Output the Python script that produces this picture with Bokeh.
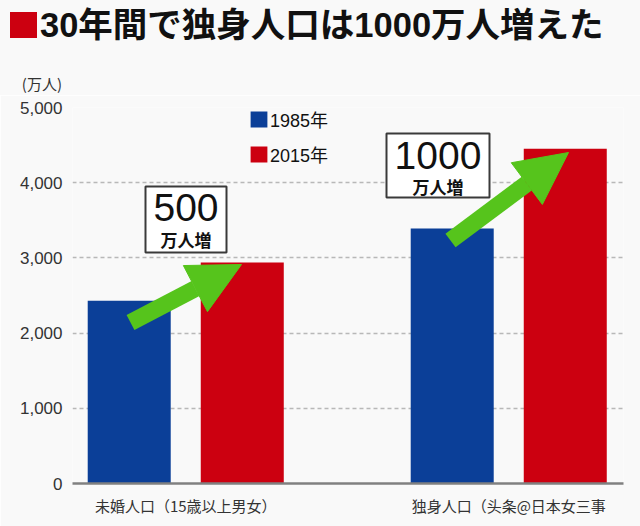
from bokeh.plotting import figure
from bokeh.layouts import column
from bokeh.models import (ColumnDataSource, FixedTicker, NumeralTickFormatter, Label, Div,
                          BoxAnnotation, Arrow, NormalHead, Legend, LegendItem, Range1d)
from bokeh.embed import file_html
from bokeh.resources import INLINE

# ---------------- data ----------------
title_text = "30年間で独身人口は1000万人増えた"
categories = ["未婚人口（15歳以上男女）", "独身人口（头条@日本女三事"]
series_names = ["1985年", "2015年"]
values_1985 = [2430, 3390]
values_2015 = [2940, 4450]
increase_big = ["500", "1000"]
increase_unit = "万人増"
y_ticks = [0, 1000, 2000, 3000, 4000, 5000]
y_unit = "(万人)"

# ---------------- style ----------------
BLUE = "#0b3f98"
RED = "#cc0010"
GREEN = "#56c41c"
BG = "#f9f9f9"
JP = "Noto Sans CJK JP"
MIX = "'Liberation Sans', 'Noto Sans CJK JP'"

group_x = [0.5, 1.5]
off = 0.175
bw = 0.257
X0, X1 = 0.1494, 1.8553
Y0, Y1 = 0, 5000

PAGE_W, PAGE_H = 640, 526
HEAD_H = 95                       # header (title + unit) height
FRAME_L, FRAME_R, FRAME_T, FRAME_B = 72, 623, 107, 483   # page pixels
W, H = PAGE_W, PAGE_H - HEAD_H
frame_w = FRAME_R - FRAME_L
frame_h = FRAME_B - FRAME_T


def dx(px):  # page pixel -> data x (annotation placement)
    return X0 + (px - FRAME_L) / frame_w * (X1 - X0)


def dy(py):  # page pixel -> data y (annotation placement)
    return (FRAME_B - py) / frame_h * (Y1 - Y0)


header_html = f"""
<div style="position:relative;width:{PAGE_W}px;height:{HEAD_H}px;background:{BG};">
  <div style="position:absolute;left:10px;top:12px;width:27px;height:26px;background:{RED};"></div>
  <div style="position:absolute;left:40px;top:7px;line-height:36px;font-family:{MIX};
              font-size:34.5px;font-weight:bold;color:#111;white-space:nowrap;">{title_text}</div>
  <div style="position:absolute;left:0px;top:75px;width:62px;text-align:right;line-height:18px;
              font-family:'Noto Sans CJK JP';font-size:15px;color:#333;white-space:nowrap;">{y_unit}</div>
</div>
"""
header = Div(text=header_html, width=PAGE_W, height=HEAD_H, margin=0,
             styles={"background-color": BG})

p = figure(width=W, height=H, x_range=Range1d(X0, X1), y_range=Range1d(Y0, Y1),
           output_backend="svg", toolbar_location=None, title=None,
           min_border_left=FRAME_L, min_border_right=PAGE_W - FRAME_R,
           min_border_top=FRAME_T - HEAD_H, min_border_bottom=PAGE_H - FRAME_B,
           background_fill_color=BG, border_fill_color=BG, outline_line_color=None,
           margin=0)

src85 = ColumnDataSource(dict(x=[g - off for g in group_x], top=values_1985))
src15 = ColumnDataSource(dict(x=[g + off for g in group_x], top=values_2015))
r1 = p.vbar(x="x", top="top", width=bw, source=src85, fill_color=BLUE, line_color=None)
r2 = p.vbar(x="x", top="top", width=bw, source=src15, fill_color=RED, line_color=None)

# axes
p.xaxis.ticker = FixedTicker(ticks=group_x)
p.xaxis.major_label_overrides = {group_x[i]: categories[i] for i in range(2)}
p.xaxis.axis_line_color = "#808080"
p.xaxis.axis_line_width = 2.5
p.xaxis.major_tick_line_color = None
p.xaxis.major_tick_out = 0
p.xaxis.minor_tick_line_color = None
p.xaxis.major_label_text_font = JP
p.xaxis.major_label_text_font_size = "15px"
p.xaxis.major_label_text_color = "#333333"
p.xaxis.major_label_standoff = 11

p.yaxis.ticker = FixedTicker(ticks=y_ticks)
p.yaxis.formatter = NumeralTickFormatter(format="0,0")
p.yaxis.axis_line_color = None
p.yaxis.major_tick_line_color = None
p.yaxis.major_tick_out = 0
p.yaxis.minor_tick_line_color = None
p.yaxis.major_label_text_font = MIX
p.yaxis.major_label_text_font_size = "17px"
p.yaxis.major_label_text_color = "#333333"
p.yaxis.major_label_standoff = 10

p.xgrid.visible = False
p.ygrid.grid_line_color = "#b8b8b8"
p.ygrid.grid_line_dash = "4 3"
p.ygrid.grid_line_width = 1.5

# legend
legend = Legend(items=[LegendItem(label=series_names[0], renderers=[r1]),
                       LegendItem(label=series_names[1], renderers=[r2])],
                location=(176, 316), glyph_width=21, glyph_height=20, label_height=20,
                spacing=9, padding=0, margin=0, border_line_color=None,
                background_fill_alpha=0, label_text_font=MIX, label_text_font_size="18px",
                label_standoff=1, label_text_color="#111111")
p.add_layout(legend)

# arrows (from 1985 bar toward 2015 bar)
arrow_pts = [((130, 322), (241, 264)), ((450, 240), (568, 152))]
for (sx, sy), (ex, ey) in arrow_pts:
    p.add_layout(Arrow(end=NormalHead(size=52, fill_color=GREEN, line_color=GREEN, line_width=1),
                       x_start=dx(sx), y_start=dy(sy), x_end=dx(ex), y_end=dy(ey),
                       line_color=GREEN, line_width=17))

# increase boxes
boxes = [(145, 226, 186, 252, 207, 239), (386, 489, 133, 197, 155, 186)]
for i, (l, r, t, b, ybig, ysmall) in enumerate(boxes):
    p.add_layout(BoxAnnotation(left=dx(l), right=dx(r), top=dy(t), bottom=dy(b),
                               fill_color="white", fill_alpha=1, line_color="#3a3a3a",
                               line_width=2, line_alpha=1))
    cx = dx((l + r) / 2)
    p.add_layout(Label(x=cx, y=dy(ybig), text=increase_big[i], text_align="center",
                       text_baseline="middle", text_font=MIX, text_font_size="39px",
                       text_color="#111111"))
    p.add_layout(Label(x=cx, y=dy(ysmall), text=increase_unit, text_align="center",
                       text_baseline="middle", text_font=JP, text_font_size="17px",
                       text_font_style="bold", text_color="#111111"))

layout = column(header, p, spacing=0, margin=0)
open("out.html", "w").write(file_html(layout, INLINE))
